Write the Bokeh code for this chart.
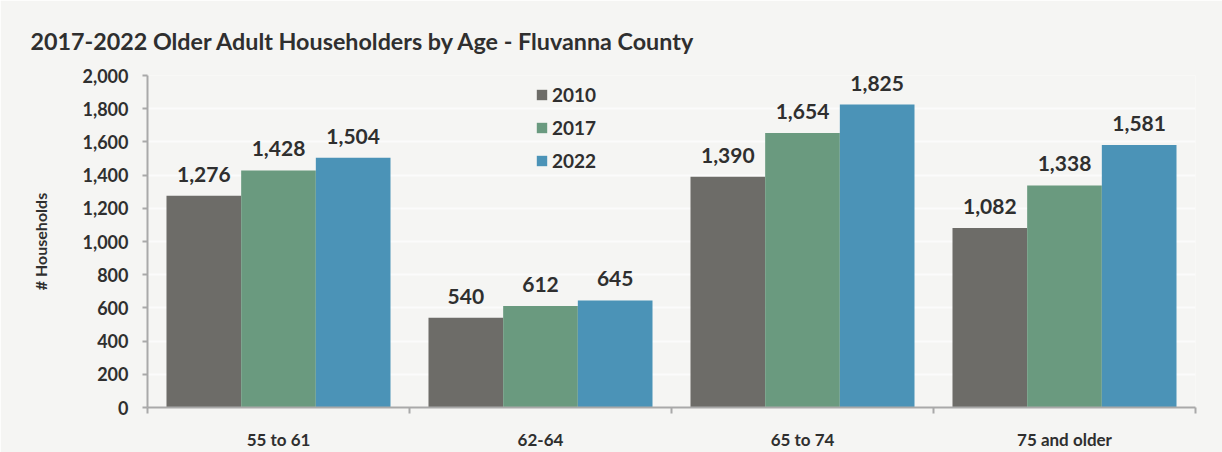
from bokeh.plotting import figure
from bokeh.models import ColumnDataSource, FixedTicker, LabelSet, Legend, LegendItem, Range1d, Title, NumeralTickFormatter
from bokeh.core.properties import value
from bokeh.embed import file_html
from bokeh.resources import INLINE

categories = ["55 to 61", "62-64", "65 to 74", "75 and older"]
years = ["2010", "2017", "2022"]
v2010 = [1276, 540, 1390, 1082]
v2017 = [1428, 612, 1654, 1338]
v2022 = [1504, 645, 1825, 1581]
colors = ["#6d6c68", "#6a9a7f", "#4b93b7"]

BG = "#f5f5f3"
TXT = "#2f2f2f"
FONT = "Lato"

p = figure(width=1222, height=452, output_backend="svg", toolbar_location=None,
           x_range=Range1d(0, 4), y_range=Range1d(0, 2000),
           min_border_left=147, min_border_right=27, min_border_top=75, min_border_bottom=43)
p.background_fill_color = BG
p.border_fill_color = BG
p.outline_line_color = None

bar_w = 0.285
offsets = [-bar_w, 0.0, bar_w]
series = [v2010, v2017, v2022]
items = []
for yr, vals, off, col in zip(years, series, offsets, colors):
    xs = [i + 0.5 + off for i in range(len(categories))]
    src = ColumnDataSource(dict(x=xs, top=vals, lab=[f"{v:,}" for v in vals]))
    r = p.vbar(x="x", top="top", width=bar_w, bottom=0, source=src,
               fill_color=col, line_color=None)
    items.append(LegendItem(label=yr, renderers=[r]))
    ls = LabelSet(x="x", y="top", text="lab", source=src, text_align="center",
                  text_baseline="bottom", y_offset=14, text_font=value(FONT),
                  text_font_style="bold", text_font_size="21px", text_color=TXT)
    p.add_layout(ls)

leg = Legend(items=items, location=(388, 235), orientation="vertical")
leg.glyph_width = 13
leg.glyph_height = 13
leg.label_height = 20
leg.spacing = 10
leg.padding = 0
leg.margin = 0
leg.label_standoff = 4
leg.label_text_font = FONT
leg.label_text_font_style = "bold"
leg.label_text_font_size = "19px"
leg.label_text_color = TXT
leg.background_fill_alpha = 0
leg.border_line_color = None
p.add_layout(leg, "center")

# axes
xa = p.xaxis[0]
xa.ticker = FixedTicker(ticks=[i + 0.5 for i in range(len(categories))],
                        minor_ticks=list(range(len(categories) + 1)))
xa.major_label_overrides = {i + 0.5: c for i, c in enumerate(categories)}
xa.major_tick_out = 0
xa.major_tick_in = 0
xa.minor_tick_out = 6
xa.minor_tick_in = 0
xa.minor_tick_line_color = "#a9a9a9"
xa.minor_tick_line_width = 2
xa.axis_line_color = "#a9a9a9"
xa.axis_line_width = 2
xa.major_label_standoff = 15
xa.major_label_text_font = FONT
xa.major_label_text_font_style = "bold"
xa.major_label_text_font_size = "17px"
xa.major_label_text_color = TXT

ya = p.yaxis[0]
ya.ticker = FixedTicker(ticks=list(range(0, 2001, 200)), minor_ticks=[])
ya.formatter = NumeralTickFormatter(format="0,0")
ya.major_tick_out = 5
ya.major_tick_in = 0
ya.major_tick_line_color = "#a9a9a9"
ya.major_tick_line_width = 2
ya.axis_line_color = "#a9a9a9"
ya.axis_line_width = 2
ya.major_label_standoff = 14
ya.major_label_text_font = FONT
ya.major_label_text_font_style = "bold"
ya.major_label_text_font_size = "18px"
ya.major_label_text_color = TXT
ya.axis_label = "# Households"
ya.axis_label_text_font = FONT
ya.axis_label_text_font_style = "bold"
ya.axis_label_text_font_size = "16px"
ya.axis_label_text_color = TXT
ya.axis_label_standoff = 30

p.xgrid.grid_line_color = None
p.ygrid.ticker = FixedTicker(ticks=list(range(200, 2001, 200)))
p.ygrid.grid_line_color = "#fbfbfb"
p.ygrid.grid_line_width = 2

t = Title(text="2017-2022 Older Adult Householders by Age - Fluvanna County",
          align="left", offset=-117, text_font=FONT, text_font_style="bold",
          text_font_size="23.3px", text_color=TXT, standoff=42)
p.add_layout(t, "above")

open("out.html", "w").write(file_html(p, INLINE))
